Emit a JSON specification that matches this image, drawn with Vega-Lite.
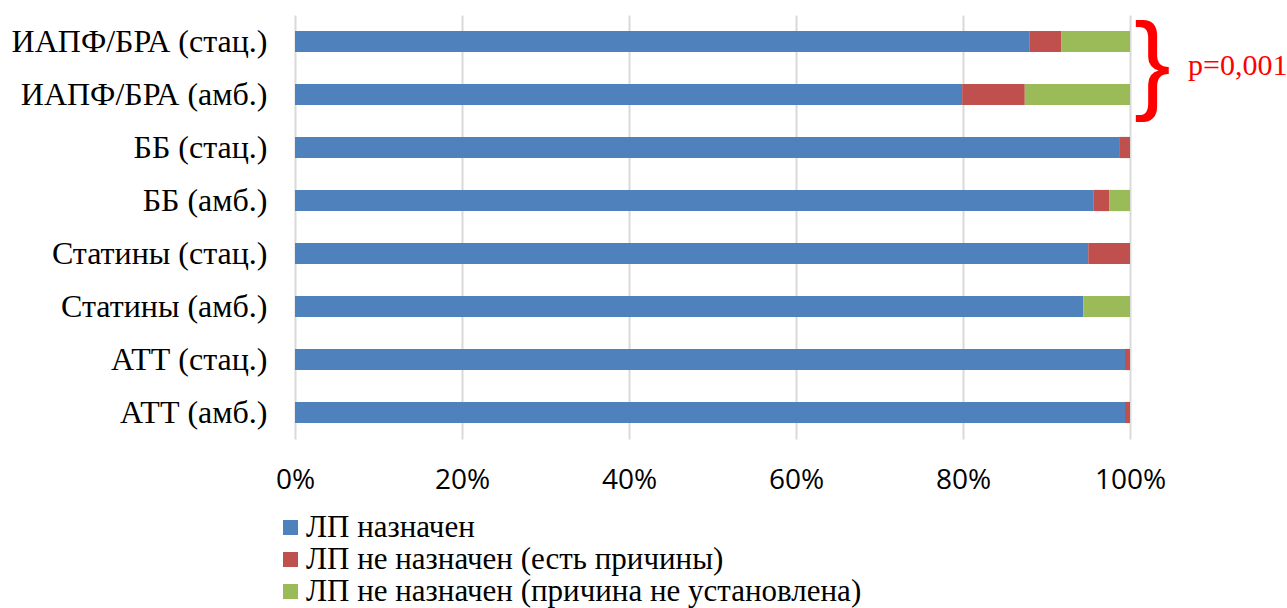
{
  "$schema": "https://vega.github.io/schema/vega-lite/v6.json",
  "width": 835,
  "height": 424,
  "autosize": {"type": "none"},
  "padding": {"left": 295, "top": 15, "right": 157, "bottom": 169},
  "background": "white",
  "config": {"view": {"stroke": null}},
  "datasets": {
    "bars": [
      {"cat": "ИАПФ/БРА (стац.)", "status": "ЛП назначен", "k": 1, "value": 88.0},
      {"cat": "ИАПФ/БРА (стац.)", "status": "ЛП не назначен (есть причины)", "k": 2, "value": 3.8},
      {"cat": "ИАПФ/БРА (стац.)", "status": "ЛП не назначен (причина не установлена)", "k": 3, "value": 8.2},
      {"cat": "ИАПФ/БРА (амб.)", "status": "ЛП назначен", "k": 1, "value": 79.9},
      {"cat": "ИАПФ/БРА (амб.)", "status": "ЛП не назначен (есть причины)", "k": 2, "value": 7.5},
      {"cat": "ИАПФ/БРА (амб.)", "status": "ЛП не назначен (причина не установлена)", "k": 3, "value": 12.6},
      {"cat": "ББ (стац.)", "status": "ЛП назначен", "k": 1, "value": 98.7},
      {"cat": "ББ (стац.)", "status": "ЛП не назначен (есть причины)", "k": 2, "value": 1.3},
      {"cat": "ББ (амб.)", "status": "ЛП назначен", "k": 1, "value": 95.6},
      {"cat": "ББ (амб.)", "status": "ЛП не назначен (есть причины)", "k": 2, "value": 1.9},
      {"cat": "ББ (амб.)", "status": "ЛП не назначен (причина не установлена)", "k": 3, "value": 2.5},
      {"cat": "Статины (стац.)", "status": "ЛП назначен", "k": 1, "value": 95.0},
      {"cat": "Статины (стац.)", "status": "ЛП не назначен (есть причины)", "k": 2, "value": 5.0},
      {"cat": "Статины (амб.)", "status": "ЛП назначен", "k": 1, "value": 94.4},
      {"cat": "Статины (амб.)", "status": "ЛП не назначен (причина не установлена)", "k": 3, "value": 5.6},
      {"cat": "АТТ (стац.)", "status": "ЛП назначен", "k": 1, "value": 99.4},
      {"cat": "АТТ (стац.)", "status": "ЛП не назначен (есть причины)", "k": 2, "value": 0.6},
      {"cat": "АТТ (амб.)", "status": "ЛП назначен", "k": 1, "value": 99.4},
      {"cat": "АТТ (амб.)", "status": "ЛП не назначен (есть причины)", "k": 2, "value": 0.6}
    ],
    "notes": [
      {"cat": "ИАПФ/БРА (стац.)", "x": 100, "brace": "}", "p": "p=0,001"}
    ]
  },
  "layer": [
    {
      "data": {"name": "bars"},
      "mark": {"type": "bar"},
      "encoding": {
        "y": {
          "field": "cat", "type": "nominal",
          "sort": ["ИАПФ/БРА (стац.)", "ИАПФ/БРА (амб.)", "ББ (стац.)", "ББ (амб.)", "Статины (стац.)", "Статины (амб.)", "АТТ (стац.)", "АТТ (амб.)"],
          "scale": {"paddingInner": 0.6, "paddingOuter": 0.3},
          "axis": {"title": null, "domain": false, "ticks": false, "grid": false, "labelFont": "Liberation Serif", "labelFontSize": 32, "labelColor": "black", "labelPadding": 28, "labelLimit": 400}
        },
        "x": {
          "field": "value", "type": "quantitative", "stack": "zero",
          "scale": {"domain": [0, 100], "nice": false},
          "axis": {"title": null, "values": [0, 20, 40, 60, 80, 100], "labelExpr": "datum.value + '%'", "labelFlush": false, "domain": false, "ticks": false, "grid": true, "gridColor": "#d9d9d9", "gridWidth": 2, "labelFont": "Open Sans", "labelFontSize": 28, "labelColor": "black", "labelPadding": 27}
        },
        "order": {"field": "k", "type": "quantitative"},
        "color": {
          "field": "status", "type": "nominal",
          "scale": {"domain": ["ЛП назначен", "ЛП не назначен (есть причины)", "ЛП не назначен (причина не установлена)"], "range": ["#4F81BD", "#C0504D", "#9BBB59"]},
          "legend": {"title": null, "orient": "none", "legendX": -20, "legendY": 497, "direction": "vertical", "symbolType": "square", "symbolSize": 225, "symbolStrokeWidth": 0, "labelFont": "Liberation Serif", "labelFontSize": 31, "labelColor": "black", "labelLimit": 900, "rowPadding": 0, "padding": 0, "labelOffset": 0, "labelExpr": "datum.label == 'ЛП назначен' ? ' ЛП назначен' : datum.label"}
        }
      }
    },
    {
      "data": {"name": "notes"},
      "mark": {"type": "text", "align": "left", "baseline": "middle", "font": "Liberation Sans", "fontSize": 110, "color": "#FF0000", "dx": 4, "dy": 14},
      "encoding": {
        "y": {"field": "cat", "type": "nominal", "bandPosition": 1, "sort": ["ИАПФ/БРА (стац.)", "ИАПФ/БРА (амб.)", "ББ (стац.)", "ББ (амб.)", "Статины (стац.)", "Статины (амб.)", "АТТ (стац.)", "АТТ (амб.)"]},
        "x": {"field": "x", "type": "quantitative"},
        "text": {"field": "brace"}
      }
    },
    {
      "data": {"name": "notes"},
      "mark": {"type": "text", "align": "left", "baseline": "middle", "font": "Liberation Serif", "fontSize": 30, "color": "#FF0000", "dx": 58, "dy": 14},
      "encoding": {
        "y": {"field": "cat", "type": "nominal", "bandPosition": 1, "sort": ["ИАПФ/БРА (стац.)", "ИАПФ/БРА (амб.)", "ББ (стац.)", "ББ (амб.)", "Статины (стац.)", "Статины (амб.)", "АТТ (стац.)", "АТТ (амб.)"]},
        "x": {"field": "x", "type": "quantitative"},
        "text": {"field": "p"}
      }
    }
  ]
}
